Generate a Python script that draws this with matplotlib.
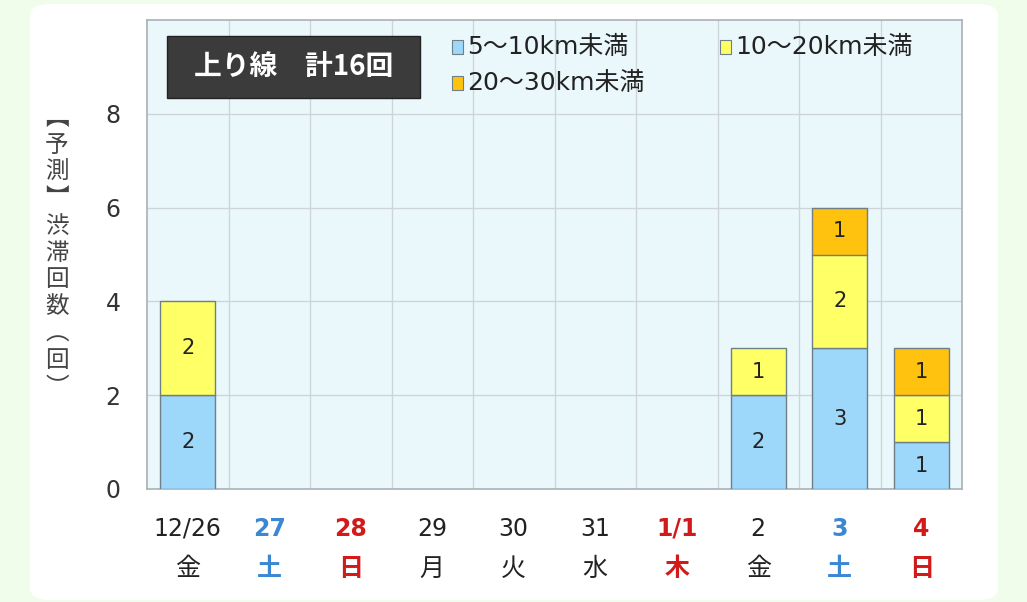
import matplotlib
matplotlib.use("Agg")
import matplotlib.pyplot as plt
from matplotlib.patches import FancyBboxPatch, Rectangle
import numpy as np

plt.rcParams['font.family'] = ['DejaVu Sans', 'Noto Sans CJK JP']
CJK = ['Noto Sans CJK JP', 'DejaVu Sans']

dates = ["12/26", "27", "28", "29", "30", "31", "1/1", "2", "3", "4"]
weekdays = ["金", "土", "日", "月", "火", "水", "木", "金", "土", "日"]
label_colors = ["#222222", "#3a87d4", "#d21a1a", "#222222", "#222222", "#222222",
                "#d21a1a", "#222222", "#3a87d4", "#d21a1a"]
series_names = ["5～10km未満", "10～20km未満", "20～30km未満"]
s_5_10 = [2, 0, 0, 0, 0, 0, 0, 2, 3, 1]
s_10_20 = [2, 0, 0, 0, 0, 0, 0, 1, 2, 1]
s_20_30 = [0, 0, 0, 0, 0, 0, 0, 0, 1, 1]
series = [s_5_10, s_10_20, s_20_30]
colors = ["#9dd7fa", "#ffff66", "#ffc20e"]
title_text = "上り線　計16回"
ylabel_text = "︻\n予\n測\n︼\n渋\n滞\n回\n数\n︵\n回\n︶"

W, H = 1027, 602
fig = plt.figure(figsize=(W / 100, H / 100), dpi=100)
fig.patch.set_facecolor("#f0fdea")
card = FancyBboxPatch((30 / W, 2 / H), (998 - 30) / W, (598 - 2) / H,
                      boxstyle="round,pad=0,rounding_size=0.02",
                      transform=fig.transFigure, facecolor="white",
                      edgecolor="none", zorder=-5)
fig.patches.append(card)

ax = fig.add_axes([147 / W, (H - 489) / H, (962 - 147) / W, (489 - 20) / H])
ax.set_zorder(1)
ax.set_facecolor("#eaf8fc")
x = np.arange(len(dates))
bottom = np.zeros(len(dates))
for vals, col, name in zip(series, colors, series_names):
    v = np.array(vals, dtype=float)
    mask = v > 0
    ax.bar(x[mask], v[mask], 0.68, bottom=bottom[mask], color=col,
           edgecolor="#6f7f88", linewidth=1.0, zorder=3, label=name)
    for xi, vi, bi in zip(x[mask], v[mask], bottom[mask]):
        ax.text(xi, bi + vi / 2, f"{int(vi)}", ha="center", va="center",
                fontsize=15, color="#222222", zorder=4)
    bottom += v

ax.set_xlim(-0.5, len(dates) - 0.5)
ax.set_ylim(0, 10)
ax.set_yticks([0, 2, 4, 6, 8])
ax.tick_params(axis="y", length=0, labelsize=17, labelcolor="#333333", pad=19)
ax.set_xticks(x)
ax.set_xticklabels([""] * len(dates))
ax.tick_params(axis="x", length=0)
for yv in [2, 4, 6, 8]:
    ax.axhline(yv, color="#cdd5d9", linewidth=1.0, zorder=1)
for xv in np.arange(0.5, len(dates) - 0.5, 1):
    ax.axvline(xv, color="#cdd5d9", linewidth=1.0, zorder=1)
for sp in ax.spines.values():
    sp.set_color("#a9b0b4")
    sp.set_linewidth(1.2)

for xi, d, w, c in zip(x, dates, weekdays, label_colors):
    bold = c != "#222222"
    ax.text(xi, -0.85, d, ha="center", va="center", fontsize=17, color=c,
            fontweight="bold" if bold else "normal", clip_on=False)
    ax.text(xi, -1.7, w, ha="center", va="center", fontsize=18, color=c,
            family=CJK, fontweight="bold" if bold else "normal", clip_on=False)

# title box
ax.add_patch(Rectangle((167 / W, (H - 98) / H), (420 - 167) / W, (98 - 36) / H,
                       transform=fig.transFigure, facecolor="#3b3b3b",
                       edgecolor="#222222", linewidth=1, zorder=5, clip_on=False))
ax.text((167 + 420) / 2 / W, (H - 67) / H, title_text, ha="center", va="center",
        fontsize=20, fontweight="bold", color="white", zorder=6, family=CJK,
        transform=fig.transFigure)

# legend
leg_items = [(452, 47, 0), (720, 47, 1), (452, 83, 2)]
for lx, ly, i in leg_items:
    ax.add_patch(Rectangle((lx / W, (H - ly - 7) / H), 11 / W, 14 / H,
                           transform=fig.transFigure, facecolor=colors[i],
                           edgecolor="#6f7f88", linewidth=0.8, zorder=5,
                           clip_on=False))
    ax.text((lx + 15) / W, (H - ly) / H, series_names[i], ha="left", va="center",
            fontsize=18, color="#222222", zorder=6, transform=fig.transFigure)

# y label (vertical writing)
fig.text(57 / W, (H - 253) / H, ylabel_text, ha="center", va="center",
         fontsize=17, color="#444444", linespacing=1.22, family=CJK)

fig.savefig("out.png", dpi=100, facecolor=fig.get_facecolor())
